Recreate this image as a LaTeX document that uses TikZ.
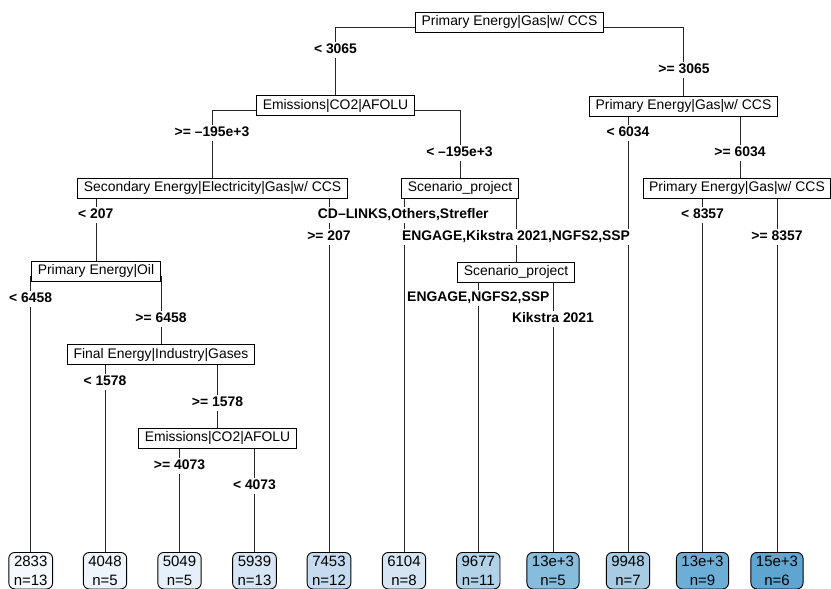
\documentclass[tikz,border=0pt]{standalone}
\usepackage{fontspec}
\setmainfont{Liberation Sans}
\usetikzlibrary{backgrounds,calc}
\definecolor{lfA}{HTML}{F5F9FE}
\definecolor{lfB}{HTML}{EEF5FC}
\definecolor{lfC}{HTML}{E6F0FA}
\definecolor{lfD}{HTML}{D6E6F4}
\definecolor{lfE}{HTML}{C6DBEF}
\definecolor{lfF}{HTML}{D5E5F3}
\definecolor{lfG}{HTML}{B2D2E8}
\definecolor{lfH}{HTML}{86BCDC}
\definecolor{lfI}{HTML}{A6CBE3}
\definecolor{lfJ}{HTML}{6DAED6}
\definecolor{lfK}{HTML}{5FA5D2}
\begin{document}
\begin{tikzpicture}[x=1pt,y=-1pt,
  split/.style={draw=black, line width=0.9pt, fill=white, inner xsep=6pt, inner ysep=0pt,
    minimum height=20pt, text height=10pt, text depth=3pt, font=\fontsize{13.9}{16}\selectfont},
  leaf/.style={draw=black, line width=0.9pt, rounded corners=6pt, inner xsep=5pt, inner ysep=0pt,
    minimum height=36.5pt, align=center, anchor=north, font=\fontsize{15}{18.4}\selectfont},
  lab/.style={fill=white, inner xsep=1pt, inner ysep=1.5pt, text height=10pt, text depth=3pt,
    font=\fontsize{13.9}{16}\selectfont\bfseries},
  branch/.style={draw=black!85, line width=0.9pt}]
\useasboundingbox (0,0) rectangle (831,589);
% split nodes
\node[split] (n1) at (509.5,22) {Primary Energy|Gas|w/ CCS};
\node[split] (n2) at (335.5,105.5) {Emissions|CO2|AFOLU};
\node[split] (n3) at (683.5,106) {Primary Energy|Gas|w/ CCS};
\node[split] (n4) at (212.5,188) {Secondary Energy|Electricity|Gas|w/ CCS};
\node[split] (n5) at (460,188) {Scenario\_project};
\node[split] (n7) at (737,188) {Primary Energy|Gas|w/ CCS};
\coordinate (n7in) at ($(n7.north)+(3,0)$);
\node[split] (n9) at (96,271) {Primary Energy|Oil};
\node[split] (n10) at (516,272) {Scenario\_project};
\node[split] (n11) at (161,354.5) {Final Energy|Industry|Gases};
\node[split] (n12) at (217.5,438) {Emissions|CO2|AFOLU};
% leaves
\node[leaf, fill=lfA] (l1) at (30.7,552) {2833\\n=13};
\node[leaf, fill=lfB] (l2) at (105,552) {4048\\n=5};
\node[leaf, fill=lfC] (l3) at (179.5,552) {5049\\n=5};
\node[leaf, fill=lfD] (l4) at (254.5,552) {5939\\n=13};
\node[leaf, fill=lfE] (l5) at (329,552) {7453\\n=12};
\node[leaf, fill=lfF] (l6) at (404,552) {6104\\n=8};
\node[leaf, fill=lfG] (l7) at (478.3,552) {9677\\n=11};
\node[leaf, fill=lfH] (l8) at (553,552) {13e+3\\n=5};
\node[leaf, fill=lfI] (l9) at (628,552) {9948\\n=7};
\node[leaf, fill=lfJ] (l10) at (702.5,552) {13e+3\\n=9};
\node[leaf, fill=lfK] (l11) at (777,552) {15e+3\\n=6};
% branches
\begin{scope}[on background layer]
\fill[white] (0,0) rectangle (831,589);
\draw[branch] (n2.north) |- ($(n1.center)+(0,5)$) -| (n3.north);
\draw[branch] (n4.north) |- ($(n2.center)+(0,5)$) -| (n5.north);
\draw[branch] (l9.north) |- ($(n3.center)+(0,5)$) -| (n7in);
\draw[branch] (n9.north) |- ($(n4.center)+(0,5)$) -| (l5.north);
\draw[branch] (l6.north) |- ($(n5.center)+(0,5)$) -| (n10.north);
\draw[branch] (l10.north) |- ($(n7.center)+(0,5)$) -| (l11.north);
\draw[branch] (l1.north) |- ($(n9.center)+(0,5)$) -| (n11.north);
\draw[branch] (l7.north) |- ($(n10.center)+(0,5)$) -| (l8.north);
\draw[branch] (l2.north) |- ($(n11.center)+(0,5)$) -| (n12.north);
\draw[branch] (l3.north) |- ($(n12.center)+(0,5)$) -| (l4.north);
\end{scope}
% split labels
\node[lab] (t1) at (335.5,50) {< 3065};
\node[lab] (t2) at (684,70) {>= 3065};
\node[lab] (t3) at (212,132.7) {>= –195e+3};
\node[lab] (t4) at (459.5,153.3) {< –195e+3};
\node[lab] (t5) at (628,132.7) {< 6034};
\node[lab] (t6) at (740,153) {>= 6034};
\node[lab] (t7) at (95.7,215) {< 207};
\node[lab] (t8) at (329,236.7) {>= 207};
\node[lab] (t9) at (403.3,215) {CD–LINKS,Others,Strefler};
\node[lab] (t10) at (516,236.7) {ENGAGE,Kikstra 2021,NGFS2,SSP};
\node[lab] (t11) at (702.5,215) {< 8357};
\node[lab] (t12) at (777,236.7) {>= 8357};
\node[lab] (t13) at (30.7,299) {< 6458};
\node[lab] (t14) at (161,319) {>= 6458};
\node[lab] (t15) at (478.3,298.3) {ENGAGE,NGFS2,SSP};
\node[lab] (t16) at (553,319.3) {Kikstra 2021};
\node[lab] (t17) at (105,382) {< 1578};
\node[lab] (t18) at (217.5,402.7) {>= 1578};
\node[lab] (t19) at (179.5,465.7) {>= 4073};
\node[lab] (t20) at (254.5,485.7) {< 4073};
\end{tikzpicture}
\end{document}
